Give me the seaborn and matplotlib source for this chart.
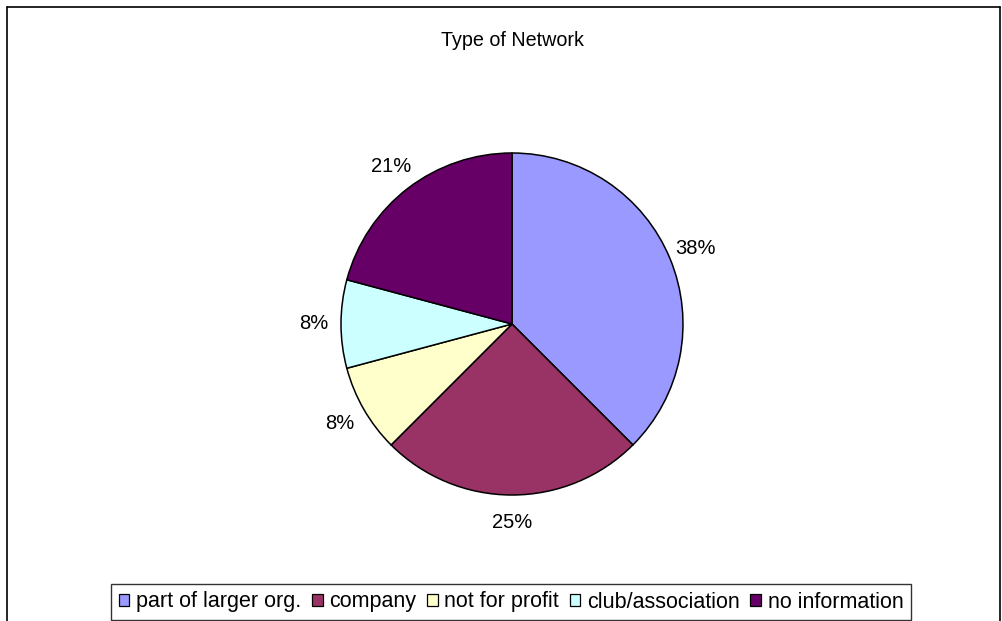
## for data
import numpy as np
## for plotting
import matplotlib
matplotlib.use("Agg")
import matplotlib.pyplot as plt
from matplotlib.lines import Line2D
from matplotlib.patches import Patch
import seaborn as sns

categories = ["part of larger org.", "company", "not for profit", "club/association", "no information"]
counts = [9, 6, 2, 2, 5]
colors = ["#9999FF", "#993366", "#FFFFCC", "#CCFFFF", "#660066"]
title = "Type of Network"

sns.set_style("white")
plt.rcParams['font.family'] = ['Liberation Sans', 'DejaVu Sans']
plt.rcParams['text.color'] = 'black'

fig = plt.figure(figsize=(10.03, 6.21), dpi=100)
W, H = 1003, 621

### outer frame (bottom edge lies outside the picture)
for xs, ys in [([7, 7], [640, 7]), ([7, 1000], [7, 7]), ([1000, 1000], [7, 640])]:
    fig.add_artist(Line2D([x / W for x in xs], [1 - y / H for y in ys],
                          color="black", lw=1.2, transform=fig.transFigure))

### pie
cx, cy, r = 512, 324, 171
ax = fig.add_axes([(cx - r) / W, 1 - (cy + r) / H, 2 * r / W, 2 * r / H])
ax.pie(counts, colors=colors, startangle=90, counterclock=False,
       autopct=lambda p: "%d%%" % round(p), pctdistance=1.16,
       wedgeprops=dict(edgecolor="black", linewidth=1.1),
       textprops=dict(fontsize=14.5, color="black"))
ax.set_xlim(-1, 1)
ax.set_ylim(-1, 1)
ax.axis("off")

fig.text(512 / W, 1 - 40 / H, title, ha="center", va="center", fontsize=14.2, color="black")

### legend
handles = [Patch(facecolor=c, edgecolor="black", linewidth=0.9) for c in colors]
leg = fig.legend(handles, categories, loc="center", bbox_to_anchor=(511 / W, 1 - 602 / H),
                 ncol=5, fontsize=15.5, frameon=True, fancybox=False, edgecolor="black",
                 handlelength=0.5, handleheight=0.5, handletextpad=0.3, columnspacing=0.5,
                 borderpad=0.35, borderaxespad=0)
leg.get_frame().set_linewidth(1.0)

fig.savefig("out.png", dpi=100)
